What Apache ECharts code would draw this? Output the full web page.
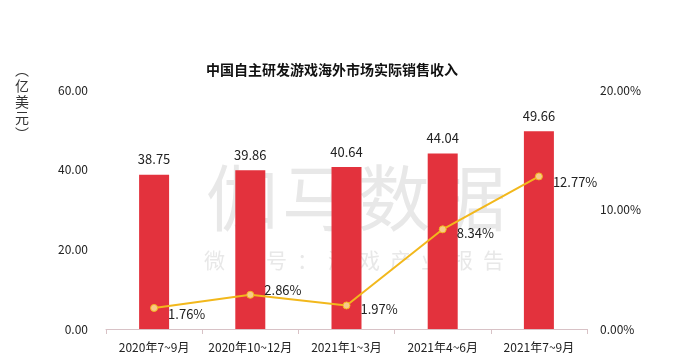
<!DOCTYPE html>
<html><head><meta charset="utf-8">
<script src="https://cdn.jsdelivr.net/npm/echarts@6/dist/echarts.min.js"></script>
<style>html,body{margin:0;padding:0;background:#fff}#c{width:683px;height:356px}</style>
</head><body><div id="c"></div>
<script>
const categories = ['2020年7~9月','2020年10~12月','2021年1~3月','2021年4~6月','2021年7~9月'];
const revenue = [38.75, 39.86, 40.64, 44.04, 49.66];
const growth = [1.76, 2.86, 1.97, 8.34, 12.77];
const leftTicks = [0, 20, 40, 60];
const rightTicks = [0, 10, 20];

const FONT = '"Noto Sans CJK SC", "Open Sans", sans-serif';
const labelOffsets = [[2,6],[2,-5],[2,4],[2,4],[2,6]];
const wmBig = ['伽','马','数','据'];
const wmSmall = ['微','信','号','：','游','戏','产','业','报','告'];
const graphics = [];
wmBig.forEach((ch, i) => graphics.push({type: 'text', left: 206 + i * 76, top: 162, z: -10,
  style: {text: ch, font: '72px "Noto Sans CJK SC"', fill: '#e8e8e8'}}));
wmSmall.forEach((ch, i) => graphics.push({type: 'text', left: 204 + i * 31, top: 250, z: -10,
  style: {text: ch, font: '21px "Noto Sans CJK SC"', fill: '#e8e8e8'}}));
graphics.push({type: 'text', left: 15, top: 62, style: {text: '︵\n亿\n美\n元\n︶', font: '14px "Noto Sans CJK SC"', fill: '#333', lineHeight: 16, textAlign: 'left'}});

const chart = echarts.init(document.getElementById('c'));
chart.setOption({
  backgroundColor: '#fff',
  animation: false,
  textStyle: {fontFamily: FONT},
  title: {
    text: '中国自主研发游戏海外市场实际销售收入',
    left: 327, top: 58, textAlign: 'center',
    textStyle: {fontSize: 14, fontWeight: 'bold', color: '#111', fontFamily: FONT}
  },
  graphic: graphics,
  grid: {left: 106, right: 96, top: 90, bottom: 27},
  xAxis: {
    type: 'category', data: categories,
    axisLine: {lineStyle: {color: '#d8c2c6', width: 1}},
    axisTick: {show: true, length: 5, lineStyle: {color: '#d8c2c6'}},
    axisLabel: {color: '#222', fontSize: 12, margin: 12, fontFamily: FONT, interval: 0}
  },
  yAxis: [
    {type: 'value', min: 0, max: 60, interval: 20,
     axisLine: {show: false}, axisTick: {show: false}, splitLine: {show: false},
     axisLabel: {color: '#222', fontSize: 12, margin: 18, formatter: v => v.toFixed(2), fontFamily: FONT}},
    {type: 'value', min: 0, max: 20, interval: 10,
     axisLine: {show: false}, axisTick: {show: false}, splitLine: {show: false},
     axisLabel: {color: '#222', fontSize: 12, margin: 13, formatter: v => v.toFixed(2) + '%', fontFamily: FONT}}
  ],
  series: [
    {type: 'bar', data: revenue, barWidth: 30, yAxisIndex: 0,
     itemStyle: {color: '#e3323d'},
     label: {show: true, position: 'top', distance: 9, color: '#222', fontSize: 13, formatter: p => p.value.toFixed(2), fontFamily: FONT}},
    {type: 'line', data: growth.map((v, i) => ({value: v, label: {offset: labelOffsets[i]}})), yAxisIndex: 1,
     symbol: 'circle', symbolSize: 7,
     lineStyle: {color: '#f2b81c', width: 2},
     itemStyle: {color: '#f8c98a', borderColor: '#f2b81c', borderWidth: 1},
     label: {show: true, position: 'right', distance: 8, color: '#222', fontSize: 13, formatter: p => p.value.toFixed(2) + '%', fontFamily: FONT}}
  ]
});
</script></body></html>
